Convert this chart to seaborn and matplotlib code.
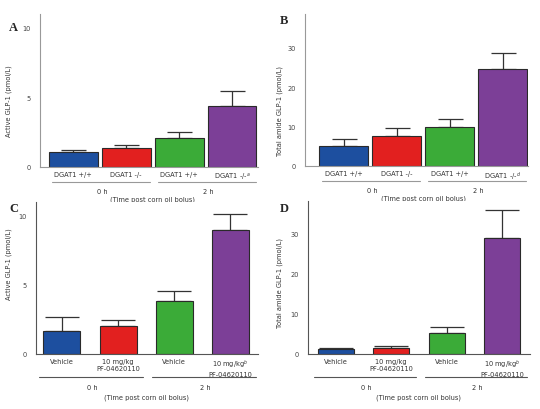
import numpy as np
import pandas as pd
import seaborn as sns
import matplotlib.pyplot as plt

# Data
colors = ["#1d4f9f", "#e2201f", "#3bab38", "#7c3f97"]
times = ["0 h", "0 h", "2 h", "2 h"]

a_labels = ["DGAT1 +/+", "DGAT1 -/-", "DGAT1 +/+", "DGAT1 -/-$^{a}$"]
a_mean = [1.1, 1.4, 2.1, 4.4]
a_err = [0.15, 0.15, 0.4, 1.1]

b_labels = ["DGAT1 +/+", "DGAT1 -/-", "DGAT1 +/+", "DGAT1 -/-$^{d}$"]
b_mean = [5.1, 7.7, 10.0, 24.5]
b_err = [1.8, 1.9, 1.9, 4.1]

c_labels = ["Vehicle", "10 mg/kg\nPF-04620110", "Vehicle", "10 mg/kg$^{b}$\nPF-04620110"]
c_mean = [1.7, 2.0, 3.85, 9.0]
c_err = [0.95, 0.45, 0.7, 1.15]

d_labels = ["Vehicle", "10 mg/kg\nPF-04620110", "Vehicle", "10 mg/kg$^{b}$\nPF-04620110"]
d_mean = [1.2, 1.5, 5.2, 29.0]
d_err = [0.3, 0.6, 1.5, 7.0]

sns.set_theme(style="white")
plt.rcParams["font.family"] = ["DejaVu Sans"]
plt.rcParams["mathtext.fontset"] = "dejavusans"

W, H = 540, 410
fig = plt.figure(figsize=(5.4, 4.1), dpi=100)


def rect(l, t, r, b):
    return [l / W, 1 - b / H, (r - l) / W, (b - t) / H]


def panel(box, letter, letter_xy, labels, means, errs, ylabel, ylab_pos,
          yticks, ylim, xlim, width, capsize, spine_col, offs):
    ax = fig.add_axes(rect(*box))
    keys = [t + " " + l for t, l in zip(times, labels)]
    df = pd.DataFrame({"key": keys, "val": means})
    sns.barplot(data=df, x="key", y="val", hue="key", palette=colors,
                legend=False, width=width, edgecolor="#2a2a2a",
                linewidth=0.8, saturation=1, errorbar=None, ax=ax)
    xs = np.arange(len(means))
    ax.errorbar(xs, means, yerr=[np.zeros(len(errs)), errs], fmt="none",
                ecolor="#333333", elinewidth=0.9, capsize=capsize,
                capthick=0.9, zorder=0.5)
    ax.set_xlim(*xlim)
    ax.set_ylim(0, ylim)
    ax.set_yticks(yticks)
    ax.set_xticks(xs)
    ax.set_xticklabels(labels, fontsize=4.8, color="#333333", linespacing=1.1)
    ax.tick_params(axis="x", length=0, pad=3)
    ax.tick_params(axis="y", length=2.5, width=0.6, color=spine_col,
                   labelsize=4.8, labelcolor="#444444", pad=4, direction="out")
    ax.set_xlabel("")
    ax.set_ylabel(ylabel, fontsize=4.8, color="#333333")
    ax.yaxis.set_label_coords(*ylab_pos)
    for s in ["top", "right"]:
        ax.spines[s].set_visible(False)
    for s in ["left", "bottom"]:
        ax.spines[s].set_color(spine_col)
        ax.spines[s].set_linewidth(0.8)

    # group annotation below the bars
    hpx = box[3] - box[1]
    tr = ax.get_xaxis_transform()
    line_y = -offs[0] / hpx
    for g0, g1, txt in [(0, 1, "0 h"), (2, 3, "2 h")]:
        ax.plot([xs[g0] - 0.4, xs[g1] + 0.45], [line_y, line_y], transform=tr,
                color=spine_col, lw=0.8, clip_on=False)
        ax.text((xs[g0] + xs[g1]) / 2 + 0.05, -offs[1] / hpx, txt,
                transform=tr, ha="center", va="center", fontsize=4.8,
                color="#333333")
    ax.text(xs.mean(), -offs[2] / hpx, "(Time post corn oil bolus)",
            transform=tr, ha="center", va="center", fontsize=4.8,
            color="#333333")
    fig.text(letter_xy[0] / W, 1 - letter_xy[1] / H, letter,
             fontsize=9, fontweight="bold", family="Liberation Serif",
             ha="left", va="center")
    return ax


panel((40, 15, 258, 168), "A", (9, 28), a_labels, a_mean, a_err,
      "Active GLP-1 (pmol/L)", (-0.128, 0.44), [0, 5, 10], 11.0,
      (-0.63, 3.49), 0.92, 9, "#999999", (15, 24, 32))
panel((305, 15, 528, 167), "B", (280, 21), b_labels, b_mean, b_err,
      "Total amide GLP-1 (pmol/L)", (-0.1, 0.37), [0, 10, 20, 30], 38.5,
      (-0.73, 3.48), 0.92, 9, "#999999", (15, 24, 32))
panel((36, 203, 258, 355), "C", (9, 209), c_labels, c_mean, c_err,
      "Active GLP-1 (pmol/L)", (-0.108, 0.6), [0, 5, 10], 11.0,
      (-0.46, 3.49), 0.66, 12, "#555555", (23, 33, 43))
panel((308, 202, 530, 355), "D", (280, 209), d_labels, d_mean, d_err,
      "Total amide GLP-1 (pmol/L)", (-0.113, 0.47), [0, 10, 20, 30], 38.2,
      (-0.5, 3.5), 0.64, 12, "#555555", (23, 33, 43))

plt.savefig("out.png", dpi=100)
